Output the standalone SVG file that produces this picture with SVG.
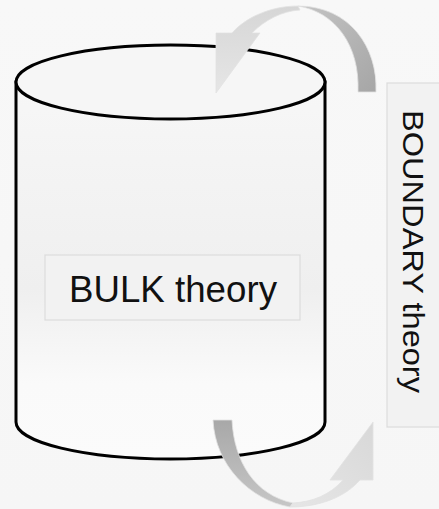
<svg xmlns="http://www.w3.org/2000/svg" width="439" height="509" viewBox="0 0 439 509">
  <defs>
    <linearGradient id="bg" x1="0" y1="0" x2="0" y2="1">
      <stop offset="0" stop-color="#f8f8f8"/>
      <stop offset="1" stop-color="#f6f6f6"/>
    </linearGradient>
    <linearGradient id="body" x1="0" y1="0" x2="0" y2="1">
      <stop offset="0" stop-color="#f7f7f7"/>
      <stop offset="0.55" stop-color="#efefef"/>
      <stop offset="0.8" stop-color="#fafafa"/>
      <stop offset="1" stop-color="#fbfbfb"/>
    </linearGradient>
    <linearGradient id="dark" x1="0" y1="0" x2="1" y2="1">
      <stop offset="0" stop-color="#c4c4c4"/>
      <stop offset="1" stop-color="#a6a6a6"/>
    </linearGradient>
    <linearGradient id="darkB" x1="0" y1="0" x2="0" y2="1">
      <stop offset="0" stop-color="#a8a8a8"/>
      <stop offset="1" stop-color="#c6c6c6"/>
    </linearGradient>
    <linearGradient id="lightT" x1="0" y1="0" x2="0" y2="1">
      <stop offset="0" stop-color="#d6d6d6"/>
      <stop offset="1" stop-color="#e6e6e6"/>
    </linearGradient>
    <linearGradient id="lightB" x1="0" y1="1" x2="1" y2="0">
      <stop offset="0" stop-color="#e6e6e6"/>
      <stop offset="1" stop-color="#d8d8d8"/>
    </linearGradient>
  </defs>
  <style>
    .outline { stroke: #000; stroke-width: 3; }
    .label { font-family: "Liberation Sans", Arial, sans-serif; fill: #111; }
    .box { fill: #f2f2f2; stroke: #dcdcdc; stroke-width: 1.2; }
    .ribbon { stroke: #e2e2e2; stroke-width: 0.8; }
  </style>
  <rect x="0" y="0" width="439" height="509" fill="url(#bg)"/>

  <g id="bulk">
    <path class="outline" d="M16,82 L16,422 A154.5,37 0 0 0 325,422 L325,82 Z" fill="url(#body)"/>
    <ellipse class="outline" cx="170.5" cy="82" rx="154.5" ry="37" fill="#f6f6f6"/>
    <rect class="box" x="45" y="255" width="255" height="65"/>
    <text class="label" x="173" y="302" font-size="37" text-anchor="middle" textLength="208" lengthAdjust="spacingAndGlyphs">BULK theory</text>
  </g>

  <g id="boundary">
    <rect class="box" x="387" y="83" width="60" height="344"/>
    <text class="label" transform="translate(403,251.5) rotate(90)" x="0" y="0" font-size="29" text-anchor="middle" textLength="283" lengthAdjust="spacingAndGlyphs">BOUNDARY theory</text>
  </g>

  <g id="connectors">
    <g id="arrow-top">
      <path class="ribbon" d="M376,92 C378,48 350,6 298,6 C335,12 360,45 358,92 Z" fill="url(#dark)"/>
      <path class="ribbon" d="M298,6 C270,6 245,18 232,33 L216,33 L216,93 L260,33 L252,33 C265,20 282,11 300,10 Z" fill="url(#lightT)"/>
    </g>
    <g id="arrow-bottom">
      <path class="ribbon" d="M213,420 L232,420 C234,462 255,495 293,503 L290,507 C250,500 215,465 213,420 Z" fill="url(#darkB)"/>
      <path class="ribbon" d="M290,507 C320,507 345,497 360,480 L373,480 L373,422 L330,480 L343,480 C330,495 312,502 293,503 Z" fill="url(#lightB)"/>
    </g>
  </g>
</svg>
